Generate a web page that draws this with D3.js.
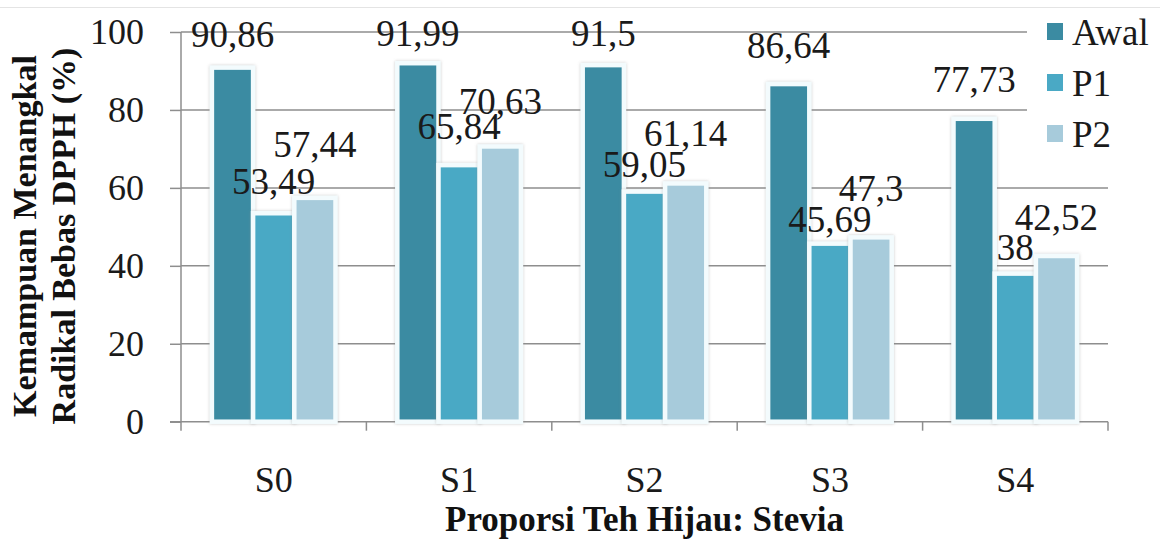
<!DOCTYPE html>
<html>
<head>
<meta charset="utf-8">
<script src="https://cdn.jsdelivr.net/npm/d3@7"></script>
<style>
    body { margin: 0; background: #fff; }
    svg { display: block; }
</style>
</head>
<body>
<svg id="chart" width="1160" height="544"></svg>
<script>
var categories = ['S0', 'S1', 'S2', 'S3', 'S4'];
var seriesNames = ['Awal', 'P1', 'P2'];
var awal = [90.86, 91.99, 91.5, 86.64, 77.73];
var p1 = [53.49, 65.84, 59.05, 45.69, 38];
var p2 = [57.44, 70.63, 61.14, 47.3, 42.52];
var yTicks = [0, 20, 40, 60, 80, 100];

// the labels were dragged by hand in the original, so each one sits its own distance above its bar
var labelGap = {
    'Awal': [21, 17, 19, 26, 27],
    'P1': [19, 26, 15, 12, 14],
    'P2': [41, 32, 37, 36, 26]
};

var colors = {
    'Awal': '#3b8ba2',
    'P1': '#4aa9c5',
    'P2': '#a7cbdb'
};

var seriesValues = {
    'Awal': awal,
    'P1': p1,
    'P2': p2
};

var FONT = 'Liberation Serif';
var TICK_SIZE = 36;
var LABEL_SIZE = 37;

var svg = d3.select('#chart')
    .attr('font-family', FONT);

var plot = { left: 181, right: 1108, top: 32, bottom: 421.7 };

var x = d3.scaleBand()
    .domain(categories)
    .range([plot.left, plot.right])
    .padding(0);

// excel gap width 150% -> 0.75 bar width on each side
var xSeries = d3.scaleBand()
    .domain(seriesNames)
    .range([0, x.bandwidth()])
    .paddingInner(0)
    .paddingOuter(0.75);

var y = d3.scaleLinear()
    .domain([0, 100])
    .range([plot.bottom, plot.top]);

var defs = svg.append('defs');
var glow = defs.append('filter')
    .attr('id', 'glow')
    .attr('x', '-20%')
    .attr('y', '-20%')
    .attr('width', '140%')
    .attr('height', '140%');
glow.append('feDropShadow')
    .attr('dx', 0)
    .attr('dy', 0)
    .attr('stdDeviation', 1.6)
    .attr('flood-color', '#8a8a8a')
    .attr('flood-opacity', 0.45);

// faint frame line at the very top
svg.append('line')
    .attr('x1', 0)
    .attr('x2', 1160)
    .attr('y1', 7.5)
    .attr('y2', 7.5)
    .attr('stroke', '#e4e4e4')
    .attr('stroke-width', 1);

// gridlines
svg.append('g')
    .selectAll('line')
    .data(yTicks.filter(function(t) { return t > 0; }))
    .enter()
    .append('line')
    .attr('x1', plot.left)
    .attr('x2', plot.right)
    .attr('y1', function(t) { return y(t); })
    .attr('y2', function(t) { return y(t); })
    .attr('stroke', '#8e8e8e')
    .attr('stroke-width', 1.5);

// legend box hides the top of the gridlines
svg.append('rect')
    .attr('x', 1027)
    .attr('y', 10)
    .attr('width', 133)
    .attr('height', 150)
    .attr('fill', '#fff');

// y axis
var yAxis = d3.axisLeft(y)
    .tickValues(yTicks)
    .tickSize(11)
    .tickPadding(26)
    .tickFormat(d3.format('d'));

var yAxisG = svg.append('g')
    .attr('transform', 'translate(' + plot.left + ',0)')
    .call(yAxis)
    .attr('font-family', FONT)
    .attr('font-size', TICK_SIZE);

yAxisG.select('.domain').remove();
yAxisG.append('line')
    .attr('x1', 0)
    .attr('x2', 0)
    .attr('y1', plot.top)
    .attr('y2', plot.bottom + 9)
    .attr('stroke', '#8e8e8e')
    .attr('stroke-width', 1.5);

yAxisG.selectAll('.tick line')
    .attr('stroke', '#8e8e8e')
    .attr('stroke-width', 1.5);

yAxisG.selectAll('.tick text')
    .attr('fill', '#1a1a1a');

// x axis: ticks sit on the category boundaries
var xAxisG = svg.append('g')
    .attr('transform', 'translate(0,' + plot.bottom + ')');

xAxisG.append('line')
    .attr('x1', plot.left - 11)
    .attr('x2', plot.right)
    .attr('y1', 0)
    .attr('y2', 0)
    .attr('stroke', '#8e8e8e')
    .attr('stroke-width', 1.5);

xAxisG.selectAll('.bound')
    .data(categories)
    .enter()
    .append('line')
    .classed('bound', true)
    .attr('x1', function(c) { return x(c) + x.bandwidth(); })
    .attr('x2', function(c) { return x(c) + x.bandwidth(); })
    .attr('y1', 0)
    .attr('y2', 9)
    .attr('stroke', '#8e8e8e')
    .attr('stroke-width', 1.5);

xAxisG.selectAll('.cat')
    .data(categories)
    .enter()
    .append('text')
    .classed('cat', true)
    .attr('x', function(c) { return x(c) + x.bandwidth() / 2; })
    .attr('y', 70)
    .attr('text-anchor', 'middle')
    .attr('font-size', TICK_SIZE)
    .attr('fill', '#1a1a1a')
    .text(function(c) { return c; });

// bars
var groups = svg.append('g')
    .selectAll('.group')
    .data(categories)
    .enter()
    .append('g')
    .classed('group', true)
    .attr('transform', function(c) { return 'translate(' + x(c) + ',0)'; });

groups.each(function(c, ci)
{
    var el = d3.select(this);

    var bars = seriesNames.map(function(s)
    {
        return { series: s, value: seriesValues[s][ci], gap: labelGap[s][ci] };
    });

    el.selectAll('rect')
        .data(bars)
        .enter()
        .append('rect')
        .attr('x', function(b) { return xSeries(b.series); })
        .attr('y', function(b) { return y(b.value); })
        .attr('width', xSeries.bandwidth())
        .attr('height', function(b) { return y(0) - y(b.value); })
        .attr('fill', function(b) { return colors[b.series]; })
        .attr('stroke', '#f3fbfd')
        .attr('stroke-width', 4.5)
        .attr('filter', 'url(#glow)');

    el.selectAll('.val')
        .data(bars)
        .enter()
        .append('text')
        .classed('val', true)
        .attr('x', function(b) { return xSeries(b.series) + xSeries.bandwidth() / 2; })
        .attr('y', function(b) { return y(b.value) - b.gap; })
        .attr('text-anchor', 'middle')
        .attr('font-size', LABEL_SIZE)
        .attr('fill', '#1a1a1a')
        .text(function(b) { return String(b.value).replace('.', ','); });
});

// legend
var legend = svg.append('g')
    .attr('transform', 'translate(1047,0)');

var legendItems = legend.selectAll('.item')
    .data(seriesNames)
    .enter()
    .append('g')
    .classed('item', true)
    .attr('transform', function(s, i) { return 'translate(0,' + (45 + i * 51) + ')'; });

legendItems.append('rect')
    .attr('x', 0)
    .attr('y', -22)
    .attr('width', 16)
    .attr('height', 17)
    .attr('fill', function(s) { return colors[s]; });

legendItems.append('text')
    .attr('x', 25)
    .attr('y', 0)
    .attr('font-size', LABEL_SIZE)
    .attr('fill', '#1a1a1a')
    .text(function(s) { return s; });

// axis titles
svg.append('text')
    .attr('x', (plot.left + plot.right) / 2)
    .attr('y', 531)
    .attr('text-anchor', 'middle')
    .attr('font-size', 35)
    .attr('font-weight', 'bold')
    .attr('fill', '#111')
    .text('Proporsi Teh Hijau: Stevia');

var yTitle = svg.append('text')
    .attr('transform', 'translate(0,236) rotate(-90)')
    .attr('text-anchor', 'middle')
    .attr('font-size', 34)
    .attr('font-weight', 'bold')
    .attr('fill', '#111');

yTitle.append('tspan')
    .attr('x', 0)
    .attr('y', 36)
    .text('Kemampuan Menangkal');

yTitle.append('tspan')
    .attr('x', 0)
    .attr('y', 75)
    .text('Radikal Bebas DPPH (%)');
</script>
</body>
</html>
